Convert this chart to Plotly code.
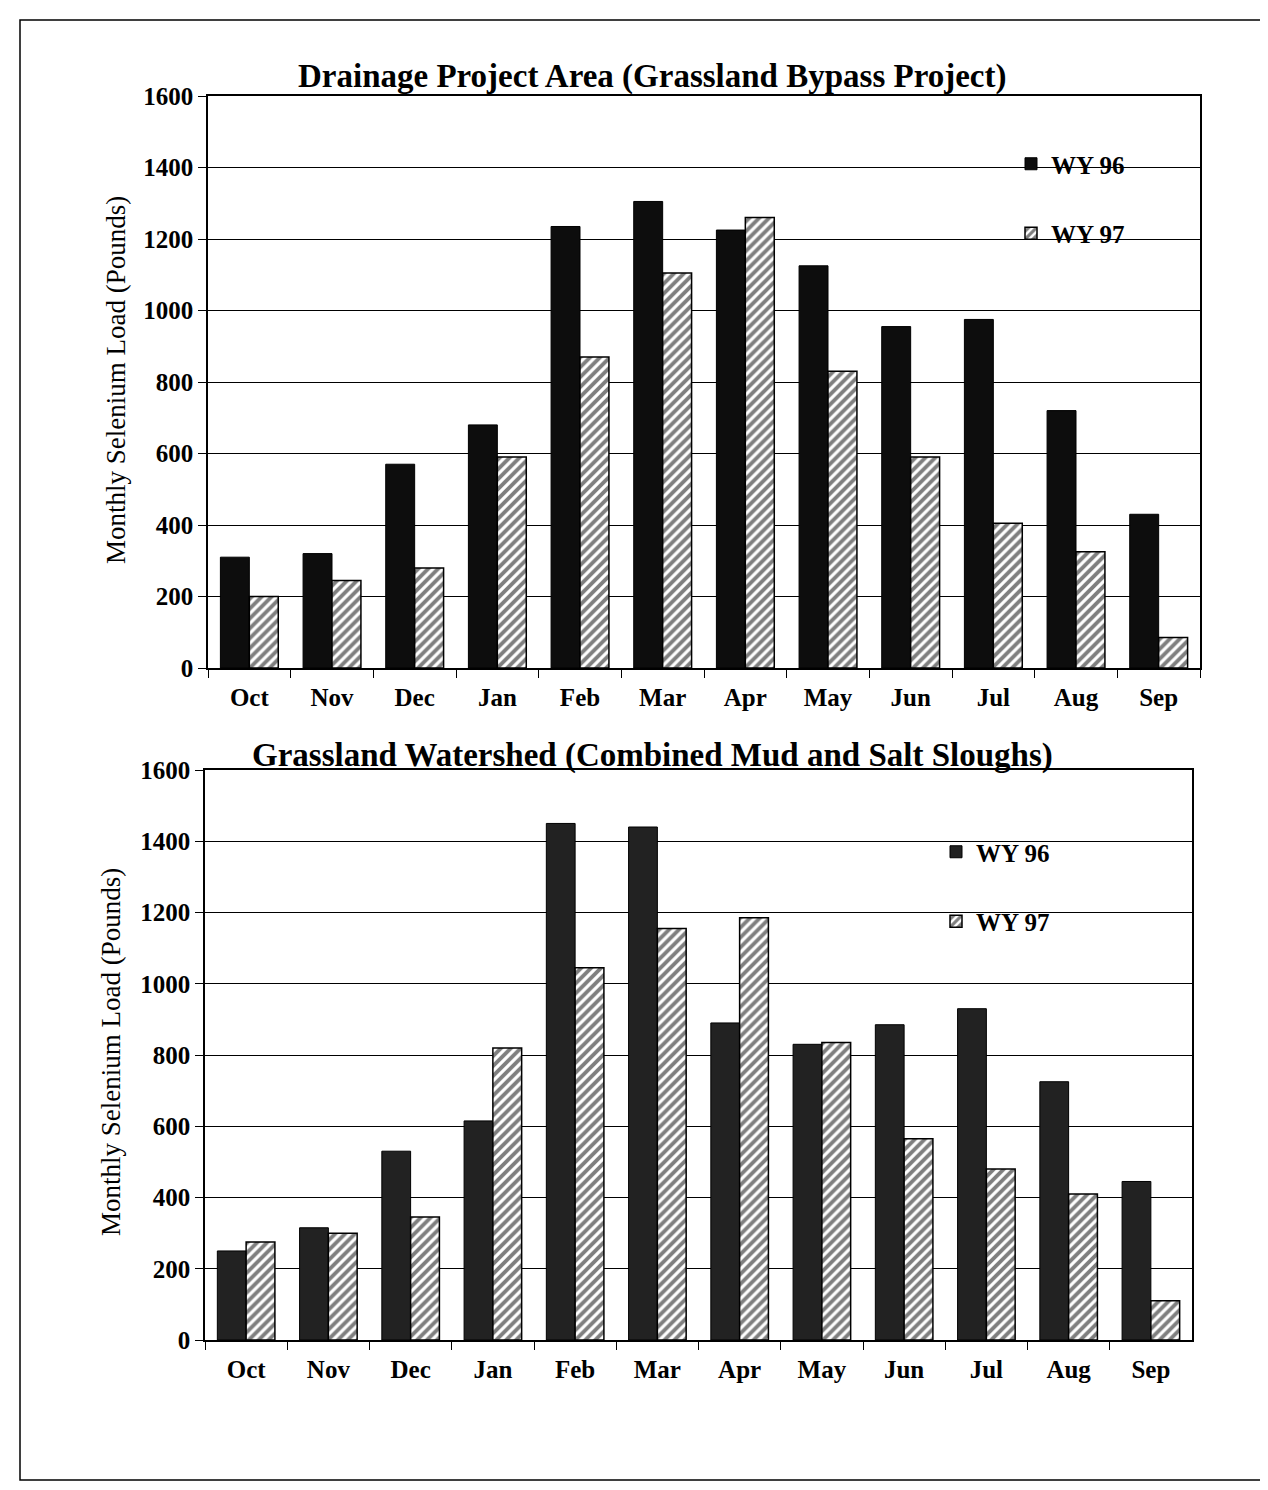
import plotly.graph_objects as go

months = ["Oct", "Nov", "Dec", "Jan", "Feb", "Mar", "Apr", "May", "Jun", "Jul", "Aug", "Sep"]
top_wy96 = [310, 320, 570, 680, 1235, 1305, 1225, 1125, 955, 975, 720, 430]
top_wy97 = [200, 245, 280, 590, 870, 1105, 1260, 830, 590, 405, 325, 85]
bot_wy96 = [250, 315, 530, 615, 1450, 1440, 890, 830, 885, 930, 725, 445]
bot_wy97 = [275, 300, 345, 820, 1045, 1155, 1185, 835, 565, 480, 410, 110]
y_ticks = [0, 200, 400, 600, 800, 1000, 1200, 1400, 1600]
title_top = "Drainage Project Area (Grassland Bypass Project)"
title_bot = "Grassland Watershed (Combined Mud and Salt Sloughs)"
y_title = "Monthly Selenium Load (Pounds)"

OFF = 8  # page body margin
W, H = 1268 - 2 * OFF, 1490 - 2 * OFF
FONT = "Liberation Serif"

def px_x(v):
    return (v - OFF) / W

def px_y(v):
    return 1 - (v - OFF) / H

fig = go.Figure()

def add_pair(v96, v97, xa, ya, leg, dark, grp):
    fig.add_trace(go.Bar(
        x=months, y=v96, name="WY 96", xaxis=xa, yaxis=ya, legend=leg,
        legendgroup=grp + "a",
        marker=dict(color=dark, line=dict(color="black", width=1)),
    ))
    fig.add_trace(go.Bar(
        x=months, y=v97, name="WY 97", xaxis=xa, yaxis=ya, legend=leg,
        legendgroup=grp + "b",
        marker=dict(color="white", line=dict(color="black", width=1.5),
                    pattern=dict(shape="/", fgcolor="black", bgcolor="white",
                                 size=7, solidity=0.55)),
    ))

add_pair(top_wy96, top_wy97, "x", "y", "legend", "#0d0d0d", "t")
add_pair(bot_wy96, bot_wy97, "x2", "y2", "legend2", "#222222", "b")

xcommon = dict(
    type="category", showline=True, linecolor="black", linewidth=1.5, mirror=True,
    ticks="outside", ticklen=8, tickcolor="black", tickson="boundaries",
    showgrid=False, automargin=False, ticklabelstandoff=6,
    tickfont=dict(family=FONT, size=25, color="black", weight="bold"),
)
ycommon = dict(
    range=[0, 1600], tickvals=y_ticks, showline=True, linecolor="black", linewidth=1.5,
    mirror=True, ticks="outside", ticklen=8, tickcolor="black", automargin=False,
    showgrid=True, gridcolor="black", gridwidth=1, zeroline=False,
    tickfont=dict(family=FONT, size=25, color="black", weight="bold"),
)

legfont = dict(family=FONT, size=25, color="black", weight="bold")

fig.update_layout(
    width=W, height=H,
    margin=dict(l=0, r=0, t=0, b=0, autoexpand=False),
    font=dict(family=FONT, color="black"),
    paper_bgcolor="white", plot_bgcolor="white",
    barmode="group", bargap=0.3, bargroupgap=0.0,
    xaxis=dict(domain=[px_x(208), px_x(1200)], anchor="y", **xcommon),
    yaxis=dict(domain=[px_y(668), px_y(96)], anchor="x", **ycommon),
    xaxis2=dict(domain=[px_x(205), px_x(1192)], anchor="y2", **xcommon),
    yaxis2=dict(domain=[px_y(1340), px_y(770)], anchor="x2", **ycommon),
    legend=dict(x=px_x(1011), y=px_y(141), xanchor="left", yanchor="top",
                bgcolor="rgba(0,0,0,0)", tracegroupgap=34, traceorder="grouped",
                font=legfont),
    legend2=dict(x=px_x(936), y=px_y(829), xanchor="left", yanchor="top",
                 bgcolor="rgba(0,0,0,0)", tracegroupgap=34, traceorder="grouped",
                 font=legfont),
    showlegend=True,
)

annotations = [
    dict(text=title_top, x=px_x(652), y=px_y(76), xref="paper", yref="paper",
         xanchor="center", yanchor="middle", showarrow=False,
         font=dict(family=FONT, size=33, color="black", weight="bold")),
    dict(text=title_bot, x=px_x(652), y=px_y(755), xref="paper", yref="paper",
         xanchor="center", yanchor="middle", showarrow=False,
         font=dict(family=FONT, size=33, color="black", weight="bold")),
    dict(text=y_title, x=px_x(116), y=px_y(380), xref="paper", yref="paper",
         xanchor="center", yanchor="middle", showarrow=False, textangle=-90,
         font=dict(family=FONT, size=27, color="black")),
    dict(text=y_title, x=px_x(111), y=px_y(1052), xref="paper", yref="paper",
         xanchor="center", yanchor="middle", showarrow=False, textangle=-90,
         font=dict(family=FONT, size=27, color="black")),
]
fig.update_layout(annotations=annotations)

fig.add_shape(type="rect", xref="paper", yref="paper",
              x0=px_x(20), x1=px_x(1266), y0=px_y(1480), y1=px_y(20),
              line=dict(color="black", width=1.5))

fig.write_html("out.html")
